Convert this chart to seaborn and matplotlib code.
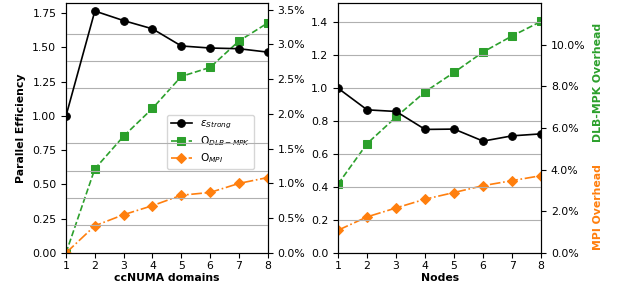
import matplotlib
matplotlib.use("Agg")
import matplotlib.pyplot as plt
from matplotlib.ticker import PercentFormatter
import numpy as np
import seaborn as sns

# ── data ─────────────────────────────────────────────
domains = [1, 2, 3, 4, 5, 6, 7, 8]
eff_domains = [1.0, 1.765, 1.695, 1.635, 1.51, 1.495, 1.49, 1.465]
dlb_domains = [0.0, 1.21, 1.68, 2.08, 2.54, 2.67, 3.05, 3.31]   # %
mpi_domains = [0.0, 0.39, 0.55, 0.68, 0.83, 0.87, 1.0, 1.085]    # %

nodes = [1, 2, 3, 4, 5, 6, 7, 8]
eff_nodes = [1.0, 0.869, 0.859, 0.75, 0.752, 0.679, 0.711, 0.723]
dlb_nodes = [3.31, 5.25, 6.53, 7.74, 8.67, 9.65, 10.42, 11.12]   # %
mpi_nodes = [1.09, 1.73, 2.16, 2.58, 2.90, 3.23, 3.47, 3.71]     # %

GREEN = "#2ca02c"
ORANGE = "#ff7f0e"
plt.rcParams["font.size"] = 7.8

fig = plt.figure(figsize=(6.17, 2.91), dpi=100)
ax1 = fig.add_axes([0.107, 0.131, 0.327, 0.857])
ax2 = fig.add_axes([0.548, 0.131, 0.329, 0.857])


def draw(ax, x, eff, dlb, mpi):
    tw = ax.twinx()
    kw = dict(markersize=5.5, linewidth=1.2)
    sns.lineplot(x=x, y=eff, ax=ax, color="black", marker="o",
                 markeredgecolor="black", label=r"$\epsilon_{Strong}$", legend=False, **kw)
    sns.lineplot(x=x, y=dlb, ax=tw, color=GREEN, marker="s",
                 markeredgecolor=GREEN, linestyle="--", label=r"O$_{DLB-MPK}$", legend=False, **kw)
    sns.lineplot(x=x, y=mpi, ax=tw, color=ORANGE, marker="D",
                 markeredgecolor=ORANGE, linestyle="-.", label=r"O$_{MPI}$", legend=False, **kw)
    ax.set_xlim(1, 8)
    ax.set_xticks(x)
    ax.tick_params(axis="x", pad=2)
    tw.yaxis.set_major_formatter(PercentFormatter(xmax=100, decimals=1))
    ax.set_zorder(tw.get_zorder() + 1)
    ax.patch.set_visible(False)
    return tw


# ── left: ccNUMA domains ──────────────────────────────
tw1 = draw(ax1, domains, eff_domains, dlb_domains, mpi_domains)
ax1.set_ylim(0, 1.82)
ax1.set_yticks(np.arange(0, 1.76, 0.25))
ax1.set_yticks(np.arange(0.2, 1.7, 0.2), minor=True)
ax1.tick_params(axis="y", which="minor", length=0)
ax1.grid(axis="y", which="minor", color="#b0b0b0", lw=0.8)
tw1.set_ylim(0, 3.59)
tw1.set_yticks(np.arange(0, 3.51, 0.5))
ax1.set_ylabel("Parallel Efficiency", fontweight="bold")
ax1.set_xlabel("ccNUMA domains", fontweight="bold", labelpad=2)

h1, l1 = ax1.get_legend_handles_labels()
h2, l2 = tw1.get_legend_handles_labels()
leg = tw1.legend(h1 + h2, l1 + l2, loc="upper left", bbox_to_anchor=(0.475, 0.575),
                 handlelength=2.0, labelspacing=0.3, borderpad=0.35, fontsize=7.6)

# ── right: nodes ──────────────────────────────────────
tw2 = draw(ax2, nodes, eff_nodes, dlb_nodes, mpi_nodes)
ax2.set_ylim(0, 1.515)
ax2.set_yticks(np.arange(0, 1.41, 0.2))
ax2.grid(axis="y", color="#b0b0b0", lw=0.8)
tw2.set_ylim(0, 11.98)
tw2.set_yticks(np.arange(0, 10.1, 2))
ax2.set_xlabel("Nodes", fontweight="bold", labelpad=2)

fig.text(0.969, 0.715, "DLB-MPK Overhead", color=GREEN, fontweight="bold",
         rotation=90, ha="center", va="center")
fig.text(0.969, 0.29, "MPI Overhead", color=ORANGE, fontweight="bold",
         rotation=90, ha="center", va="center")

fig.savefig("out.png", dpi=100)
